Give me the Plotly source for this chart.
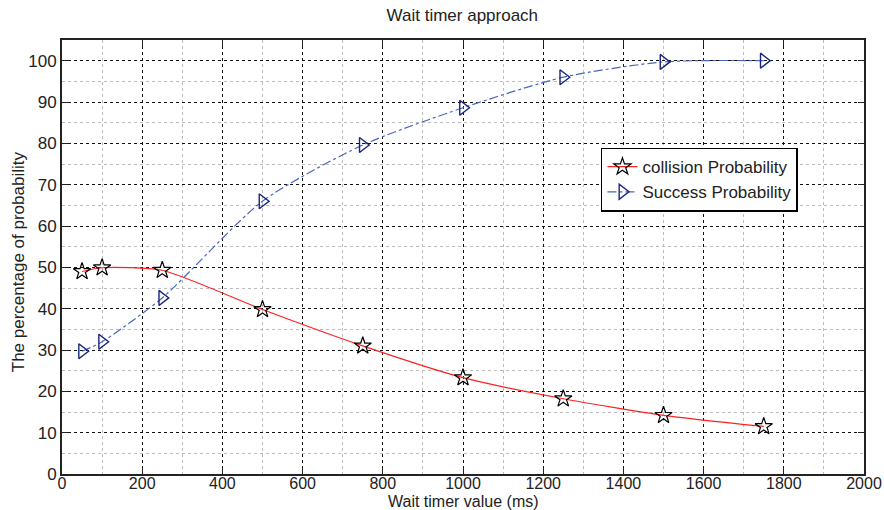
import plotly.graph_objects as go

wait_ms = [50, 100, 250, 500, 750, 1000, 1250, 1500, 1750]
collision = [49.0, 49.9, 49.3, 39.8, 31.0, 23.3, 18.2, 14.2, 11.5]
success = [29.7, 32.0, 42.6, 66.0, 79.6, 88.6, 96.0, 99.7, 100.0]

x_ticks = list(range(0, 2001, 200))
y_ticks = list(range(0, 101, 10))

FONT = "Liberation Sans, Arial, sans-serif"
TXT = "#222"

fig = go.Figure()
fig.add_trace(go.Scatter(
    x=wait_ms, y=collision, name="collision Probability",
    mode="lines+markers", line=dict(color="#ff2020", width=1.2, shape="spline", smoothing=0.6),
    marker=dict(symbol="star-open", size=13, color="black", line=dict(width=1.2, color="black")),
))
fig.add_trace(go.Scatter(
    x=wait_ms, y=success, name="Success Probability",
    mode="lines+markers", line=dict(color="#4766bd", width=1.2, dash="dashdot", shape="spline", smoothing=0.7),
    marker=dict(symbol="triangle-right-open", size=13, color="#1a237e", line=dict(width=1.4, color="#1a237e")),
))

axis_common = dict(
    showline=True, linecolor="#222", linewidth=2, mirror="allticks",
    ticks="inside", ticklen=6, tickcolor="#222",
    showgrid=True, gridcolor="#111", griddash="dot", gridwidth=1,
    zeroline=False,
    automargin=False, ticklabeloverflow="allow",
)

fig.update_xaxes(
    range=[0, 2000], tickvals=x_ticks, ticktext=[str(v) for v in x_ticks],
    ticklabelstandoff=-6, tickfont=dict(family=FONT, size=16, color=TXT),
    minor=dict(dtick=100, showgrid=True, gridcolor="#bbb", griddash="dot", gridwidth=1, ticks=""),
    **axis_common,
)
fig.update_yaxes(
    range=[0, 105], tickvals=y_ticks, ticktext=[str(v) for v in y_ticks],
    tickfont=dict(family=FONT, size=17, color=TXT),
    minor=dict(dtick=5, showgrid=True, gridcolor="#bbb", griddash="dot", gridwidth=1, ticks=""),
    **axis_common,
)

fig.add_annotation(text="Wait timer value (ms)", xref="paper", yref="paper", x=0.5, y=-0.063,
                   xanchor="center", yanchor="middle", showarrow=False,
                   font=dict(family=FONT, size=16, color=TXT))
fig.add_annotation(text="The percentage of probability", xref="paper", yref="paper", x=-0.055, y=0.49,
                   xanchor="center", yanchor="middle", textangle=-90, showarrow=False,
                   font=dict(family=FONT, size=17, color=TXT))

fig.update_layout(
    width=884, height=510,
    margin=dict(l=62, r=20, t=40, b=36),
    paper_bgcolor="white", plot_bgcolor="white",
    title=dict(text="Wait timer approach", x=0.523, xanchor="center", y=0.97, yanchor="middle",
               font=dict(family=FONT, size=17, color=TXT)),
    legend=dict(x=0.672, y=0.752, xanchor="left", yanchor="top",
                bgcolor="white", bordercolor="black", borderwidth=1.5,
                font=dict(family=FONT, size=17, color=TXT),
                tracegroupgap=0, itemwidth=30),
    showlegend=True,
)

fig.write_html("out.html")
